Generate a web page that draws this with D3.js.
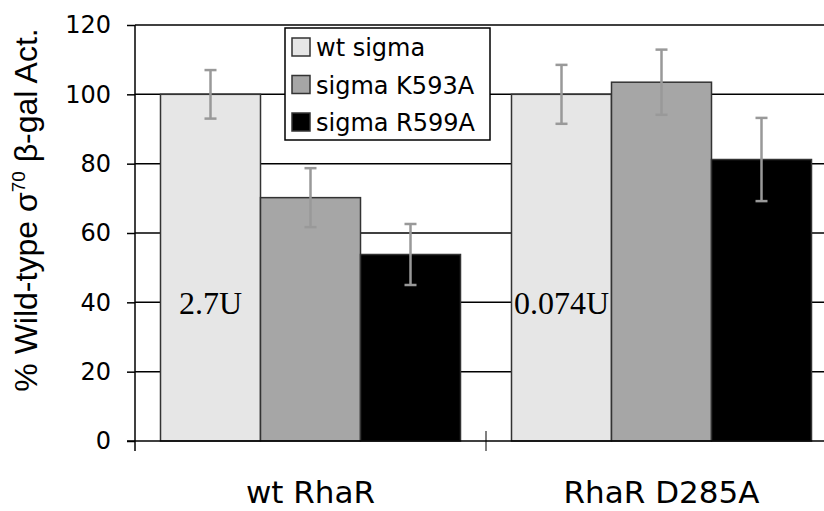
<!DOCTYPE html>
<html>
<head>
<meta charset="utf-8">
<script src="https://cdn.jsdelivr.net/npm/d3@7"></script>
<style>
  body { margin: 0; background: #fff; }
  svg { display: block; }
</style>
</head>
<body>
<div id="chart"></div>
<script>
'use strict';

// values
var categories = ['wt RhaR', 'RhaR D285A'];
var seriesNames = ['wt sigma', 'sigma K593A', 'sigma R599A'];
var wtSigma = [100, 100];
var sigmaK593A = [70.2, 103.5];
var sigmaR599A = [53.8, 81.2];
var errWtSigma = [7, 8.5];
var errK593A = [8.5, 9.4];
var errR599A = [8.8, 12];
var yTicks = [0, 20, 40, 60, 80, 100, 120];
var unitLabels = ['2.7U', '0.074U'];
var unitLabelValue = 36.5;

var seriesValues = [wtSigma, sigmaK593A, sigmaR599A];
var seriesErrors = [errWtSigma, errK593A, errR599A];
var colors = d3.scaleOrdinal().domain(seriesNames).range(['#e6e6e6', '#a6a6a6', '#000000']);

var scope = {
  div: '#chart',
  margins: { top: 25, right: 0, bottom: 70, left: 135 },
  width: 702,
  height: 416
};

var svg = d3.select(scope.div).append('svg')
  .attr('width', 824)
  .attr('height', 511);

var g = svg.append('g')
  .attr('transform', 'translate(' + scope.margins.left + ',' + scope.margins.top + ')');

var x0 = d3.scaleBand().domain(categories).range([0, scope.width]);
var x1 = d3.scaleBand().domain(seriesNames).range([25.5, x0.bandwidth() - 25.5]);
var y = d3.scaleLinear().domain([0, 120]).range([scope.height, 0]);

// gridlines
g.append('g')
  .selectAll('line')
  .data(yTicks.slice(1))
  .enter().append('line')
  .attr('x1', 0)
  .attr('x2', scope.width)
  .attr('y1', function(d) { return y(d); })
  .attr('y2', function(d) { return y(d); })
  .attr('stroke', '#000')
  .attr('stroke-width', 1.5);

// bars
var rows = [];
categories.forEach(function(c, i) {
  seriesNames.forEach(function(s, j) {
    rows.push({ cat: c, key: s, value: seriesValues[j][i], err: seriesErrors[j][i] });
  });
});

g.append('g')
  .selectAll('rect')
  .data(rows)
  .enter().append('rect')
  .attr('x', function(d) { return x0(d.cat) + x1(d.key); })
  .attr('y', function(d) { return y(d.value); })
  .attr('width', x1.bandwidth())
  .attr('height', function(d) { return y(0) - y(d.value); })
  .attr('fill', function(d) { return colors(d.key); })
  .attr('stroke', '#333')
  .attr('stroke-width', 1.5);

// error bars
var eb = g.append('g')
  .attr('stroke', '#999')
  .attr('stroke-width', 2.5)
  .selectAll('g')
  .data(rows)
  .enter().append('g')
  .attr('transform', function(d) {
    return 'translate(' + (x0(d.cat) + x1(d.key) + x1.bandwidth() / 2) + ',0)';
  });

eb.append('line')
  .attr('y1', function(d) { return y(d.value + d.err); })
  .attr('y2', function(d) { return y(d.value - d.err); });
eb.append('line')
  .attr('x1', -6).attr('x2', 6)
  .attr('y1', function(d) { return y(d.value + d.err); })
  .attr('y2', function(d) { return y(d.value + d.err); });
eb.append('line')
  .attr('x1', -6).attr('x2', 6)
  .attr('y1', function(d) { return y(d.value - d.err); })
  .attr('y2', function(d) { return y(d.value - d.err); });

// unit labels inside first bars
g.append('g')
  .selectAll('text')
  .data(categories)
  .enter().append('text')
  .attr('x', function(d) { return x0(d) + x1(seriesNames[0]) + x1.bandwidth() / 2; })
  .attr('y', y(unitLabelValue))
  .attr('text-anchor', 'middle')
  .attr('font-family', '"Liberation Serif", "Times New Roman", serif')
  .attr('font-size', 32)
  .attr('fill', '#000')
  .text(function(d, i) { return unitLabels[i]; });

// y axis
var yAxis = g.append('g')
  .call(d3.axisLeft(y).tickValues(yTicks).tickSize(8).tickPadding(16));
yAxis.select('.domain').remove();
yAxis.selectAll('.tick line').attr('stroke', '#000').attr('stroke-width', 1.5);
yAxis.selectAll('.tick text')
  .attr('font-family', '"DejaVu Sans", Verdana, sans-serif')
  .attr('font-size', 24)
  .attr('fill', '#000');

g.append('line')
  .attr('x1', 0).attr('x2', 0)
  .attr('y1', 0).attr('y2', scope.height + 10)
  .attr('stroke', '#000').attr('stroke-width', 1.5);

// x axis
g.append('line')
  .attr('x1', -8).attr('x2', scope.width)
  .attr('y1', y(0)).attr('y2', y(0))
  .attr('stroke', '#000').attr('stroke-width', 1.5);

g.append('g')
  .selectAll('line')
  .data(categories.slice(1))
  .enter().append('line')
  .attr('x1', function(d) { return x0(d); })
  .attr('x2', function(d) { return x0(d); })
  .attr('y1', y(0) - 10)
  .attr('y2', y(0) + 10)
  .attr('stroke', '#000')
  .attr('stroke-width', 1);

g.append('g')
  .selectAll('text')
  .data(categories)
  .enter().append('text')
  .attr('x', function(d) { return x0(d) + x0.bandwidth() / 2; })
  .attr('y', scope.height + 62)
  .attr('text-anchor', 'middle')
  .attr('font-family', '"DejaVu Sans", Verdana, sans-serif')
  .attr('font-size', 31)
  .attr('fill', '#000')
  .text(function(d) { return d; });

// y axis title
var title = svg.append('text')
  .attr('transform', 'translate(37,210) rotate(-90)')
  .attr('text-anchor', 'middle')
  .attr('font-family', '"Liberation Sans", Arial, sans-serif')
  .attr('font-size', 32)
  .attr('fill', '#000');
title.append('tspan').text('% Wild-type \u03c3');
title.append('tspan').attr('dy', -12).attr('font-size', 19).text('70');
title.append('tspan').attr('dy', 12).text(' \u03b2-gal Act.');

// legend
var legend = svg.append('g')
  .attr('transform', 'translate(285,28)');

legend.append('rect')
  .attr('width', 205)
  .attr('height', 112)
  .attr('fill', '#fff')
  .attr('stroke', '#000')
  .attr('stroke-width', 1.5);

var items = legend.selectAll('g')
  .data(seriesNames)
  .enter().append('g')
  .attr('transform', function(d, i) { return 'translate(7,' + (10 + i * 37.5) + ')'; });

items.append('rect')
  .attr('width', 18)
  .attr('height', 18)
  .attr('fill', colors)
  .attr('stroke', '#333')
  .attr('stroke-width', 1.5);

items.append('text')
  .attr('x', 24)
  .attr('y', 18)
  .attr('font-family', '"DejaVu Sans", Verdana, sans-serif')
  .attr('font-size', 24)
  .attr('fill', '#000')
  .text(function(d) { return d; });
</script>
</body>
</html>
